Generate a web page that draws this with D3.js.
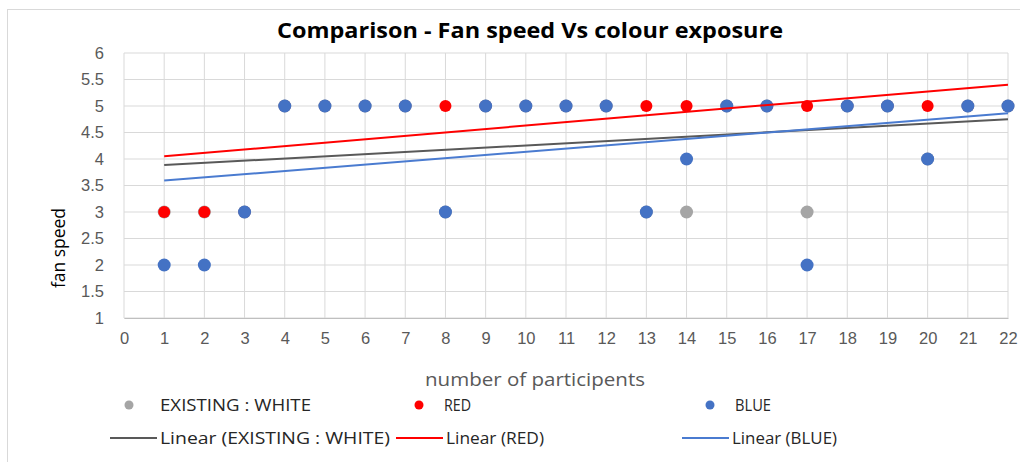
<!DOCTYPE html>
<html>
<head>
<meta charset="utf-8">
<script src="https://cdn.jsdelivr.net/npm/d3@7"></script>
<style>
  body { margin: 0; background: #fff; }
  svg { font-family: "Open Sans", Lato, sans-serif; }
</style>
</head>
<body>
<div id="chart"></div>
<script>
var participants = d3.range(1, 23);
var whiteValues = [3,3,3,5,5,5,5,3,5,5,5,5,3,3,5,5,3,5,5,4,5,5];
var redValues   = [3,3,3,5,5,5,5,5,5,5,5,5,5,5,5,5,5,5,5,5,5,5];
var blueValues  = [2,2,3,5,5,5,5,3,5,5,5,5,3,4,5,5,2,5,5,4,5,5];
var xTicks = d3.range(0, 23);
var yTicks = d3.range(1, 6.01, 0.5);

var series = [
  {name: "EXISTING : WHITE", values: whiteValues, color: "#a5a5a5", trend: "#595959", r: 6.5},
  {name: "RED", values: redValues, color: "#ff0000", trend: "#ff0000", r: 6},
  {name: "BLUE", values: blueValues, color: "#4472c4", trend: "#4a7bd0", r: 6.5}
];

var width = 1020, height = 462;
var margin = {left: 124, right: 12, top: 53, bottom: 144};

var svg = d3.select("#chart").append("svg")
    .attr("width", width).attr("height", height);

svg.append("rect").attr("x", 7.5).attr("y", 9.5)
    .attr("width", 1030).attr("height", 460)
    .attr("fill", "#fff").attr("stroke", "#d9d9d9");

var x = d3.scaleLinear().domain([0, 22]).range([margin.left, width - margin.right]);
var y = d3.scaleLinear().domain([1, 6]).range([height - margin.bottom, margin.top]);

// gridlines
svg.append("g").selectAll("line").data(yTicks).join("line")
    .attr("x1", x(0)).attr("x2", x(22))
    .attr("y1", d => y(d)).attr("y2", d => y(d))
    .attr("stroke", "#d9d9d9");
svg.append("g").selectAll("line").data(xTicks).join("line")
    .attr("x1", d => x(d)).attr("x2", d => x(d))
    .attr("y1", y(1)).attr("y2", y(6))
    .attr("stroke", "#d9d9d9");

// axes
var xAxis = d3.axisBottom(x).tickValues(xTicks).tickSize(0).tickPadding(14);
var gx = svg.append("g").attr("transform", "translate(0," + y(1) + ")").call(xAxis);
gx.select(".domain").attr("stroke", "#bfbfbf");
gx.selectAll("text").attr("font-size", 16.5).attr("fill", "#595959");

var yAxis = d3.axisLeft(y).tickValues(yTicks).tickSize(0).tickPadding(20)
    .tickFormat(d3.format("~g"));
var gy = svg.append("g").attr("transform", "translate(" + x(0) + ",0)").call(yAxis);
gy.select(".domain").remove();
gy.selectAll("text").attr("font-size", 16.5).attr("fill", "#595959");

// points
series.forEach(function(s) {
  svg.append("g").selectAll("circle").data(participants).join("circle")
      .attr("cx", d => x(d))
      .attr("cy", (d, i) => y(s.values[i]))
      .attr("r", s.r)
      .attr("fill", s.color);
});

// linear trendlines
series.forEach(function(s) {
  var mx = d3.mean(participants), my = d3.mean(s.values);
  var sxy = d3.sum(participants, (d, i) => (d - mx) * (s.values[i] - my));
  var sxx = d3.sum(participants, d => (d - mx) * (d - mx));
  var b = sxy / sxx, a = my - b * mx;
  svg.append("path")
      .datum([1, 22])
      .attr("d", d3.line().x(d => x(d)).y(d => y(a + b * d)))
      .attr("stroke", s.trend).attr("stroke-width", 2).attr("fill", "none");
});

// titles
svg.append("text").attr("x", 530).attr("y", 38)
    .attr("text-anchor", "middle").attr("font-size", 22).attr("font-weight", "bold")
    .attr("textLength", 506).attr("lengthAdjust", "spacingAndGlyphs")
    .attr("fill", "#000").text("Comparison - Fan speed Vs colour exposure");

svg.append("text").attr("transform", "translate(65,248) rotate(-90)")
    .attr("text-anchor", "middle").attr("font-size", 18).attr("fill", "#000")
    .attr("textLength", 80).attr("lengthAdjust", "spacingAndGlyphs")
    .text("fan speed");

svg.append("text").attr("x", 535).attr("y", 386)
    .attr("text-anchor", "middle").attr("font-size", 18).attr("fill", "#595959")
    .attr("textLength", 220).attr("lengthAdjust", "spacingAndGlyphs")
    .text("number of participents");

// legend
var legendX = [129, 419, 710];
var nameLen = [151, 27, 36];
var legend1 = svg.append("g").selectAll("g").data(series).join("g")
    .attr("transform", (d, i) => "translate(" + legendX[i] + ",405)");
legend1.append("circle").attr("r", 4.5).attr("fill", d => d.color);
legend1.append("text").attr("x", (d, i) => i === 0 ? 31 : 25).attr("y", 6)
    .attr("font-size", 17).attr("fill", "#262626")
    .attr("textLength", (d, i) => nameLen[i]).attr("lengthAdjust", "spacingAndGlyphs")
    .text(d => d.name);

var lineX = [110, 396, 682];
var trendLen = [230, 98, 105];
var legend2 = svg.append("g").selectAll("g").data(series).join("g")
    .attr("transform", (d, i) => "translate(" + lineX[i] + ",438)");
legend2.append("line").attr("x1", 0).attr("x2", 47)
    .attr("stroke", d => d.trend).attr("stroke-width", 2);
legend2.append("text").attr("x", 50).attr("y", 6)
    .attr("font-size", 17).attr("fill", "#262626")
    .attr("textLength", (d, i) => trendLen[i]).attr("lengthAdjust", "spacingAndGlyphs")
    .text(d => "Linear (" + d.name + ")");
</script>
</body>
</html>
